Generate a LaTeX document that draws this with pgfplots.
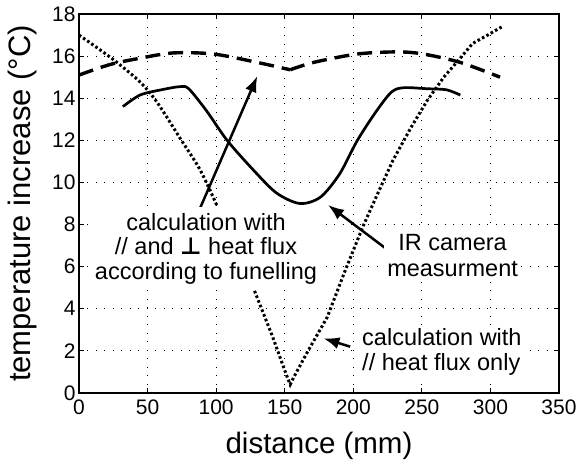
\documentclass[border=0pt]{standalone}
\usepackage{fontspec}
\setmainfont{Liberation Sans}
\newfontfamily\dejavu{DejaVu Sans}
\usepackage{pgfplots}
\pgfplotsset{compat=1.18}
\usetikzlibrary{arrows.meta}
\begin{document}
\begin{tikzpicture}
\begin{axis}[
  name=ax,
  scale only axis,
  width=480pt, height=379pt,
  xmin=0, xmax=350, ymin=0, ymax=18,
  xtick={0,50,...,350}, ytick={0,2,...,18},
  tick pos=both,
  /pgf/number format/assume math mode=true,
  tick label style={font=\fontsize{21}{23}\selectfont},
  xticklabel style={yshift=-3pt},
  xlabel={distance (mm)},
  ylabel={temperature increase (°C)},
  xlabel style={font=\fontsize{29.5}{31}\selectfont, at={(axis description cs:0.5,0)}, anchor=base, yshift=-61pt},
  ylabel style={font=\fontsize{31}{33}\selectfont, at={(axis description cs:-0.1,0.5)}, anchor=base},
  grid=major,
  major grid style={black, line width=0.9pt, dash pattern=on 0.9pt off 7.6pt},
  axis line style={line width=2.2pt},
  tick style={black, line width=1.2pt},
  major tick length=5pt,
  tick align=inside,
  clip=false,
]
% dotted: // heat flux only
\addplot[black, line width=3pt, dash pattern=on 2.6pt off 2.4pt, smooth] coordinates {
 (0,17.0) (15.3,16.3) (27.7,15.7) (44.5,14.77) (57,13.8) (73.7,12.1) (88.3,10.6) (100.6,8.9)
};
\addplot[black, line width=3pt, dash pattern=on 2.6pt off 2.4pt] coordinates {
 (128,4.85) (141,2.7) (151,0.9) (154,0.4) (157,0.8) (167,2.0) (181,3.6) (194,5.8) (207,7.9) (218,9.5) (229,11.06) (242,12.6) (254,13.9) (266,15.0) (278,15.9) (287,16.6) (298,17.0) (308.5,17.4)
};
% dashed: // and perp
\addplot[black, line width=3.4pt, dash pattern=on 15pt off 8pt, smooth] coordinates {
 (0,15.1) (22.6,15.6) (44.5,15.9) (68.6,16.15) (98,16.1) (130,15.7) (154,15.35)
};
\addplot[black, line width=3.4pt, dash pattern=on 15pt off 8pt, smooth] coordinates {
 (154,15.35) (171,15.7) (203,16.1) (232,16.2) (251,16.1) (278,15.7) (307,15.0)
};
% solid: IR camera
\addplot[black, line width=2.7pt, smooth] coordinates {
 (32,13.6) (44.5,14.15) (60,14.4) (73.7,14.55) (80,14.45) (93,13.4) (108,12.0) (127,10.6) (144,9.5) (161,9.0) (176,9.3) (190,10.4) (203,12.0) (217,13.4) (228,14.3) (237,14.5) (254,14.45) (268,14.4) (278,14.15)
};
% annotations
\draw[-{Latex[length=16pt,width=12pt]}, line width=2.5pt] (axis cs:88.3,8.78) -- (axis cs:130,15.05);
\draw[-{Latex[length=16pt,width=12pt]}, line width=2.5pt] (axis cs:223.2,6.89) -- (axis cs:181.6,8.93);
\draw[-{Latex[length=16pt,width=12pt]}, line width=2.5pt] (axis cs:197.7,2.2) -- (axis cs:178.2,2.6);
\node[font=\fontsize{23.5}{24.5}\selectfont, align=center, fill=white, inner sep=6pt, anchor=north] at (axis cs:92.6,8.83)
 {calculation with\\// and {\dejavu\bfseries ⊥} heat flux\\according to funelling};
\node[font=\fontsize{23.5}{26}\selectfont, align=center, fill=white, inner sep=3pt, anchor=north] at (axis cs:272.4,7.68)
 {IR camera\\measurment};
\node[font=\fontsize{23.5}{25}\selectfont, align=left, fill=white, inner sep=3pt, anchor=north west] at (axis cs:204.2,3.23)
 {calculation with\\// heat flux only};
\end{axis}
\pgfresetboundingbox
\path ([shift={(-79pt,-69pt)}]ax.south west) rectangle ([shift={(19pt,14pt)}]ax.north east);
\end{tikzpicture}
\end{document}
